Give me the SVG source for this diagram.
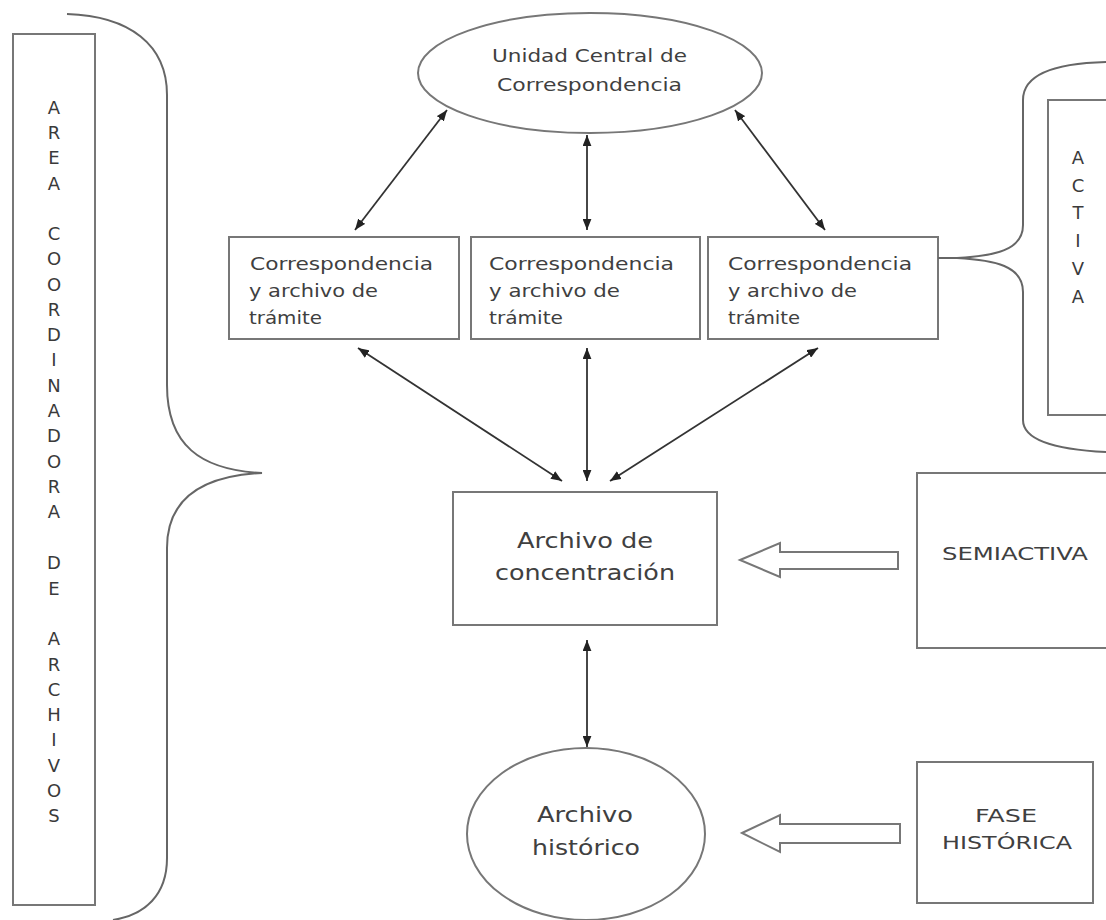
<svg xmlns="http://www.w3.org/2000/svg" width="1106" height="920" viewBox="0 0 1106 920">
<style>
.box{fill:#fff;stroke:#777;stroke-width:2}
.br{fill:none;stroke:#666;stroke-width:2}
.t{font-family:"DejaVu Sans",sans-serif;fill:#404040}
.s{font-size:17px}
.m{font-size:21px}
.v{font-family:"DejaVu Sans",sans-serif;fill:#3a3a3a;font-size:18px;text-anchor:middle}
.c{stroke:#333;stroke-width:1.8;fill:none;marker-start:url(#ah);marker-end:url(#ah)}
.blk{fill:#fff;stroke:#777;stroke-width:2;stroke-linejoin:miter}
</style>
<defs>
<marker id="ah" viewBox="0 0 10 8" refX="10" refY="4" markerWidth="11" markerHeight="9" markerUnits="userSpaceOnUse" orient="auto-start-reverse">
<path d="M0,0 L10,4 L0,8 z" fill="#222"/>
</marker>
</defs>
<rect width="1106" height="920" fill="#fff"/>

<g id="area-coordinadora">
<rect class="box" x="13" y="34" width="82" height="871"/>
<g class="v">
<text x="54" y="114">A</text><text x="54" y="139">R</text><text x="54" y="164">E</text><text x="54" y="190">A</text>
<text x="54" y="240">C</text><text x="54" y="265">O</text><text x="54" y="291">O</text><text x="54" y="316">R</text><text x="54" y="341">D</text><text x="54" y="366">I</text><text x="54" y="392">N</text><text x="54" y="417">A</text><text x="54" y="442">D</text><text x="54" y="468">O</text><text x="54" y="493">R</text><text x="54" y="518">A</text>
<text x="54" y="569">D</text><text x="54" y="595">E</text>
<text x="54" y="645">A</text><text x="54" y="671">R</text><text x="54" y="696">C</text><text x="54" y="721">H</text><text x="54" y="746">I</text><text x="54" y="772">V</text><text x="54" y="797">O</text><text x="54" y="822">S</text>
</g>
<path class="br" d="M67,14 C130,16 167,45 167,95 L167,385 C167,445 200,470 262,473 C200,476 167,500 167,548 L167,858 C167,895 145,915 113,920"/>
</g>

<g id="unidad-central">
<ellipse class="box" cx="590" cy="73" rx="172" ry="60"/>
<text class="t s" x="492" y="62" textLength="195" lengthAdjust="spacingAndGlyphs">Unidad Central de</text>
<text class="t s" x="497" y="91" textLength="185" lengthAdjust="spacingAndGlyphs">Correspondencia</text>
</g>

<g id="tramite-1">
<rect class="box" x="229" y="237" width="230" height="102"/>
<text class="t s" x="250" y="270" textLength="183" lengthAdjust="spacingAndGlyphs">Correspondencia</text>
<text class="t s" x="249" y="297" textLength="129" lengthAdjust="spacingAndGlyphs">y archivo de</text>
<text class="t s" x="249" y="324" textLength="73" lengthAdjust="spacingAndGlyphs">trámite</text>
</g>
<g id="tramite-2">
<rect class="box" x="471" y="237" width="229" height="102"/>
<text class="t s" x="489" y="270" textLength="185" lengthAdjust="spacingAndGlyphs">Correspondencia</text>
<text class="t s" x="489" y="297" textLength="131" lengthAdjust="spacingAndGlyphs">y archivo de</text>
<text class="t s" x="489" y="324" textLength="74" lengthAdjust="spacingAndGlyphs">trámite</text>
</g>
<g id="tramite-3">
<rect class="box" x="708" y="237" width="230" height="102"/>
<text class="t s" x="728" y="270" textLength="184" lengthAdjust="spacingAndGlyphs">Correspondencia</text>
<text class="t s" x="728" y="297" textLength="129" lengthAdjust="spacingAndGlyphs">y archivo de</text>
<text class="t s" x="728" y="324" textLength="72" lengthAdjust="spacingAndGlyphs">trámite</text>
</g>

<g id="activa">
<path class="br" d="M938,258 L957,258 C995,256 1023,250 1023,225 L1023,100 Q1023,64 1106,62"/>
<path class="br" d="M957,258 C995,260 1023,266 1023,292 L1023,420 Q1023,448 1106,452"/>
<rect class="box" x="1048" y="100" width="70" height="315"/>
<g class="v">
<text x="1078" y="164">A</text><text x="1078" y="192">C</text><text x="1078" y="219">T</text><text x="1078" y="247">I</text><text x="1078" y="275">V</text><text x="1078" y="303">A</text>
</g>
</g>

<g id="concentracion">
<rect class="box" x="453" y="492" width="264" height="133"/>
<text class="t m" x="517" y="548" textLength="136" lengthAdjust="spacingAndGlyphs">Archivo de</text>
<text class="t m" x="495" y="580" textLength="180" lengthAdjust="spacingAndGlyphs">concentración</text>
</g>

<g id="semiactiva">
<rect class="box" x="917" y="473" width="200" height="175"/>
<text class="t s" x="942" y="560" textLength="146" lengthAdjust="spacingAndGlyphs">SEMIACTIVA</text>
</g>

<g id="historico">
<ellipse class="box" cx="586" cy="834" rx="119" ry="86"/>
<text class="t m" x="537" y="822" textLength="96" lengthAdjust="spacingAndGlyphs">Archivo</text>
<text class="t m" x="532" y="855" textLength="108" lengthAdjust="spacingAndGlyphs">histórico</text>
</g>

<g id="fase-historica">
<rect class="box" x="917" y="762" width="176" height="141"/>
<text class="t s" x="975" y="822" textLength="62" lengthAdjust="spacingAndGlyphs">FASE</text>
<text class="t s" x="942" y="849" textLength="130" lengthAdjust="spacingAndGlyphs">HISTÓRICA</text>
</g>

<g id="connectors">
<line class="c" x1="447" y1="110" x2="355" y2="230"/>
<line class="c" x1="587" y1="135" x2="587" y2="230"/>
<line class="c" x1="735" y1="110" x2="825" y2="230"/>
<line class="c" x1="358" y1="348" x2="562" y2="481"/>
<line class="c" x1="587" y1="348" x2="587" y2="481"/>
<line class="c" x1="818" y1="348" x2="610" y2="481"/>
<line class="c" x1="587" y1="640" x2="587" y2="747"/>
<polygon class="blk" points="740,560 780,543 780,552 898,552 898,569 780,569 780,577"/>
<polygon class="blk" points="742,833 780,815 780,824 900,824 900,843 780,843 780,852"/>
</g>
</svg>
